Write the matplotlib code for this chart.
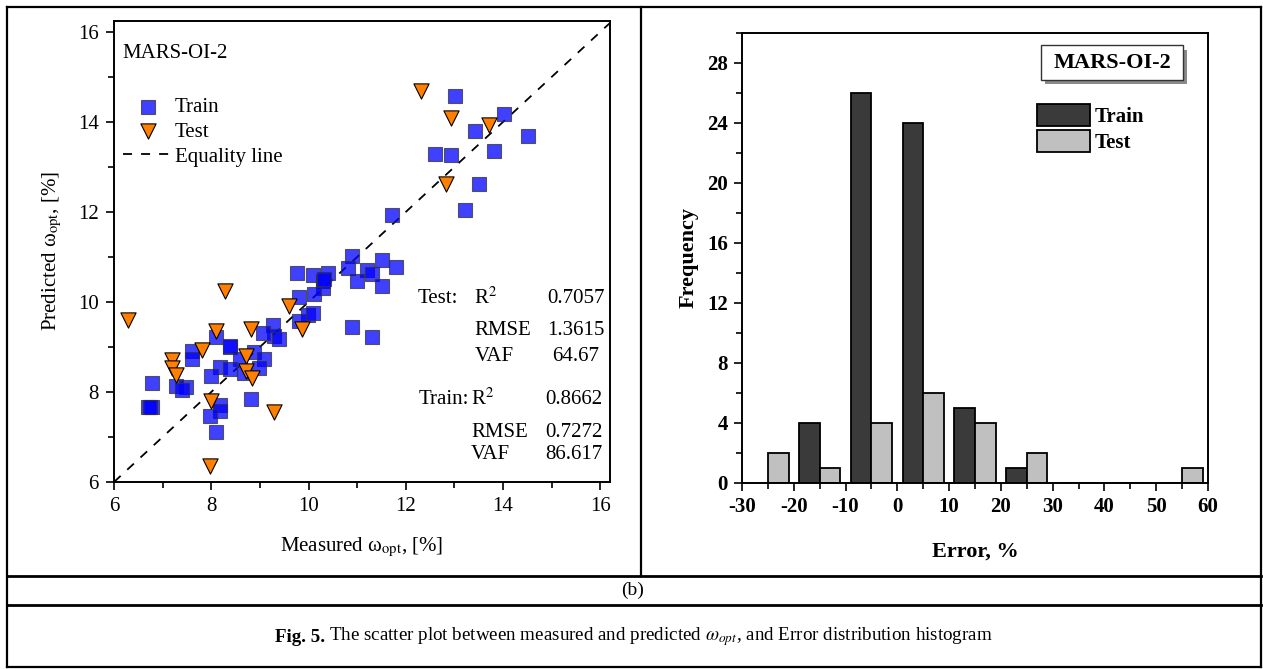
import numpy as np
import matplotlib
matplotlib.use('Agg')
import matplotlib.pyplot as plt
from matplotlib.lines import Line2D
from matplotlib.patches import Rectangle
from matplotlib.ticker import MultipleLocator

plt.rcParams['font.family'] = ['Liberation Serif', 'DejaVu Serif']
plt.rcParams['mathtext.fontset'] = 'stix'
plt.rcParams['axes.unicode_minus'] = False

# 散点数据 (measured, predicted)
train_meas = [13.02, 14.02, 13.42, 14.52, 12.61, 12.92, 13.82, 13.51, 13.21, 11.71,
              9.76, 10.09, 10.40, 10.29, 10.29, 10.11, 9.80, 9.99, 10.09, 9.80,
              10.90, 10.81, 11.21, 11.30, 11.51, 11.80, 11.00, 11.51, 10.90, 11.30,
              9.28, 9.29, 9.40, 9.06, 8.09, 7.60, 7.60, 8.38, 8.59, 8.17,
              8.38, 7.99, 8.88, 9.08, 8.99, 8.68, 6.78, 7.28, 7.48, 7.39,
              6.69, 6.79, 8.17, 8.17, 7.97, 8.82, 8.09, 8.38, 10.31, 6.74]
train_pred = [14.58, 14.18, 13.79, 13.69, 13.29, 13.27, 13.36, 12.62, 12.05, 11.94,
              10.65, 10.60, 10.65, 10.46, 10.32, 10.17, 10.10, 9.72, 9.76, 9.58,
              11.02, 10.76, 10.72, 10.63, 10.93, 10.78, 10.46, 10.35, 9.45, 9.23,
              9.48, 9.24, 9.17, 9.32, 9.23, 8.91, 8.74, 8.99, 8.73, 8.56,
              8.51, 8.36, 8.89, 8.73, 8.53, 8.43, 8.21, 8.14, 8.10, 8.04,
              7.66, 7.66, 7.71, 7.58, 7.47, 7.84, 7.10, 9.03, 10.50, 7.66]
test_meas = [6.29, 8.29, 8.09, 8.82, 9.60, 9.86, 7.80, 7.19, 7.19, 7.28,
             8.71, 8.71, 8.83, 8.00, 9.29, 7.97, 12.31, 12.92, 13.72, 12.82]
test_pred = [9.59, 10.24, 9.35, 9.41, 9.91, 9.41, 8.93, 8.71, 8.54, 8.38,
             8.79, 8.47, 8.31, 7.80, 7.55, 6.36, 14.68, 14.09, 13.94, 12.63]

stat_names = ['R$^2$', 'RMSE', 'VAF']
test_stats = ['0.7057', '1.3615', '64.67']
train_stats = ['0.8662', '0.7272', '86.617']

# 误差直方图
bins = [-20, -10, 0, 10, 20, 30, 40, 50, 60]
train_freq = [4, 26, 24, 5, 1, 0, 0, 0, 0]
test_freq = [2, 1, 4, 6, 4, 2, 0, 0, 1]

W, H = 1263, 669
fig = plt.figure(figsize=(W / 100, H / 100), dpi=100)

# ---------- 左图: 散点 ----------
ax1 = fig.add_axes([114 / W, (H - 482) / H, (610 - 114) / W, (482 - 20.7) / H])
ax1.set_xlim(6, 16.2)
ax1.set_ylim(6, 16.25)
for sp in ax1.spines.values():
    sp.set_linewidth(1.4)
ax1.xaxis.set_major_locator(MultipleLocator(2))
ax1.xaxis.set_minor_locator(MultipleLocator(1))
ax1.yaxis.set_major_locator(MultipleLocator(2))
ax1.yaxis.set_minor_locator(MultipleLocator(1))
ax1.tick_params(which='major', direction='out', length=6, width=1.2, labelsize=15, pad=5)
ax1.tick_params(which='minor', direction='out', length=4, width=1.2)

ax1.plot([6, 16.3], [6, 16.3], ls=(0, (5, 5)), color='black', lw=1.3, label='Equality line', zorder=1)
ax1.scatter(train_meas, train_pred, marker='s', s=90, color='#0000ff', alpha=0.75,
            edgecolors='#333333', linewidths=0.8, label='Train', zorder=2)
ax1.scatter(test_meas, test_pred, marker='v', s=120, color='#ff8000',
            edgecolors='black', linewidths=0.8, label='Test', zorder=3)

h, l = ax1.get_legend_handles_labels()
order = [1, 2, 0]
ax1.legend([h[i] for i in order], [l[i] for i in order], loc='upper left',
           bbox_to_anchor=(-0.012, 0.865), frameon=False, fontsize=15,
           handlelength=2.4, handletextpad=0.1, labelspacing=0.25, borderaxespad=0.3)

fig.text(122 / W, 1 - 53 / H, 'MARS-OI-2', fontsize=15, va='center', ha='left')

ax1.set_xlabel('Measured ω$_{\\rm opt}$, [%]', fontsize=15, labelpad=14)
ax1.set_ylabel('Predicted ω$_{\\rm opt}$, [%]', fontsize=15, labelpad=10)

rows_test = [10.08, 9.37, 8.79]
rows_train = [7.84, 7.11, 6.60]
ax1.text(13.08, rows_test[0], 'Test:', ha='right', va='center', fontsize=15)
ax1.text(13.31, rows_train[0], 'Train:', ha='right', va='center', fontsize=15)
for i in range(3):
    ax1.text(13.41, rows_test[i], stat_names[i], ha='left', va='center', fontsize=15)
    ax1.text(15.5, rows_test[i], test_stats[i], ha='center', va='center', fontsize=15)
    ax1.text(13.34, rows_train[i], stat_names[i], ha='left', va='center', fontsize=15)
    ax1.text(15.45, rows_train[i], train_stats[i], ha='center', va='center', fontsize=15)

# ---------- 右图: 直方图 ----------
ax2 = fig.add_axes([742 / W, (H - 483) / H, 466 / W, 450 / H])
bins = np.array(bins)
ax2.bar(bins + 3, train_freq, width=4, color='#3a3a3a', edgecolor='black', linewidth=1.3, label='Train')
ax2.bar(bins - 3, test_freq, width=4, color='#c0c0c0', edgecolor='black', linewidth=1.3, label='Test')
ax2.set_xlim(-30, 60)
ax2.set_ylim(0, 30)
for sp in ax2.spines.values():
    sp.set_linewidth(1.4)
ax2.xaxis.set_major_locator(MultipleLocator(10))
ax2.xaxis.set_minor_locator(MultipleLocator(5))
ax2.yaxis.set_major_locator(MultipleLocator(4))
ax2.yaxis.set_minor_locator(MultipleLocator(2))
ax2.tick_params(which='major', direction='out', length=6, width=1.2, labelsize=15, pad=4)
ax2.tick_params(which='minor', direction='out', length=4, width=1.2)
for t in ax2.get_xticklabels() + ax2.get_yticklabels():
    t.set_fontweight('bold')
ax2.set_xlabel('Error, %', fontsize=16, fontweight='bold', labelpad=18)
ax2.set_ylabel('Frequency', fontsize=16, fontweight='bold', labelpad=6)

ax2.legend(loc='upper left', bbox_to_anchor=(0.633, 0.843), frameon=False,
           prop={'weight': 'bold', 'size': 15}, handlelength=2.55, handleheight=1.25,
           handletextpad=0.2, labelspacing=0.15, borderpad=0, borderaxespad=0)

# 标题框 + 阴影
ax2.add_patch(Rectangle((0.651, 0.886), 0.304, 0.077, transform=ax2.transAxes,
                        facecolor='#8a8a8a', edgecolor='none', zorder=4))
ax2.add_patch(Rectangle((0.642, 0.896), 0.304, 0.077, transform=ax2.transAxes,
                        facecolor='white', edgecolor='#333333', linewidth=1.0, zorder=5))
ax2.text(0.794, 0.934, 'MARS-OI-2', transform=ax2.transAxes, ha='center', va='center',
         fontsize=16, fontweight='bold', zorder=6)

# ---------- 表格框线 ----------
def fline(x0, y0, x1, y1, lw=1.6):
    fig.add_artist(Line2D([x0 / W, x1 / W], [1 - y0 / H, 1 - y1 / H], color='black', lw=lw))

fline(7, 7, 1261, 7)
fline(7, 667, 1261, 667)
fline(7, 7, 7, 667)
fline(1261, 7, 1261, 667)
fline(641, 7, 641, 576)
fline(7, 576, 1261, 576, lw=2.0)
fline(7, 605, 1261, 605, lw=2.0)

fig.text(633 / W, 1 - 590 / H, '(b)', ha='center', va='center', fontsize=14)
fig.text(325 / W, 1 - 637 / H, 'Fig. 5.', ha='right', va='center', fontsize=13.7, fontweight='bold')
fig.text(329 / W, 1 - 637 / H,
         'The scatter plot between measured and predicted $\\omega_{opt}$, and Error distribution histogram',
         ha='left', va='center', fontsize=13.7)

fig.savefig('out.png', dpi=100)
